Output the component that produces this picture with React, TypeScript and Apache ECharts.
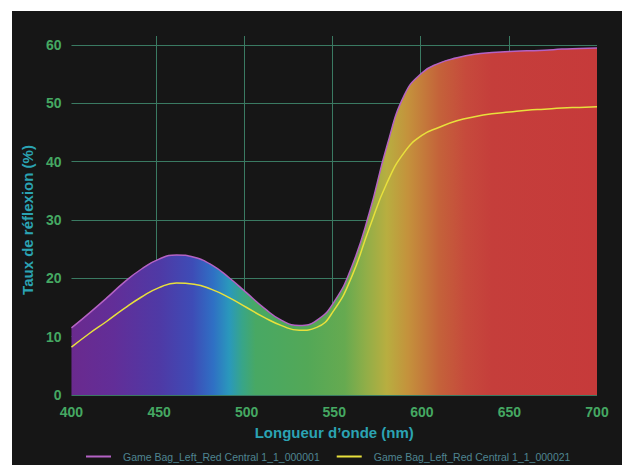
import React, { useEffect, useRef } from "react";
import * as echarts from "echarts";

const wavelengths = [400, 410, 420, 430, 440, 450, 460, 470, 480, 490, 500, 510, 520, 530, 540, 550, 560, 570, 580, 590, 600, 610, 620, 630, 640, 650, 660, 670, 680, 690, 700];
const reflect000001 = [11.5, 14.0, 16.6, 19.3, 21.6, 23.3, 24.0, 23.6, 22.3, 20.1, 17.5, 14.9, 12.8, 11.9, 12.8, 16.0, 22.0, 31.2, 42.6, 51.4, 55.2, 56.9, 57.8, 58.4, 58.7, 58.9, 59.0, 59.1, 59.3, 59.4, 59.5];
const reflect000021 = [8.2, 10.5, 12.6, 14.8, 16.8, 18.4, 19.2, 19.0, 18.1, 16.7, 15.0, 13.3, 11.9, 11.1, 11.6, 14.6, 20.3, 28.6, 36.3, 41.6, 44.5, 45.9, 47.0, 47.7, 48.2, 48.5, 48.8, 49.0, 49.2, 49.3, 49.4];
const seriesNames = ["Game Bag_Left_Red Central 1_1_000001", "Game Bag_Left_Red Central 1_1_000021"];
const xName = "Longueur d\u2019onde (nm)";
const yName = "Taux de r\u00e9flexion (%)";

export default function App() {
  const ref = useRef<HTMLDivElement>(null);
  useEffect(() => {
    if (!ref.current) return;
    const chart = echarts.init(ref.current, undefined, { renderer: "svg" });
    const labelStyle = { color: "#45a862", fontWeight: "bold" as const, fontSize: 14, fontFamily: "Liberation Sans, Arial, sans-serif" };
    const nameStyle = { color: "#2ba3b3", fontWeight: "bold" as const, fontSize: 15, fontFamily: "Liberation Sans, Arial, sans-serif" };
    const gridColor = "#3a7a62";
    chart.setOption({
      animation: false,
      backgroundColor: "#161616",
      grid: [
        { left: 56, right: 25, top: 34, bottom: 70 },
        { left: 56, right: 25, top: 25, bottom: 70 },
      ],
      legend: {
        left: 69,
        top: 435,
        icon: "rect",
        itemWidth: 25,
        itemHeight: 2,
        itemGap: 17,
        data: seriesNames,
        textStyle: { color: "#4f8591", fontSize: 10.5, fontFamily: "Liberation Sans, Arial, sans-serif", padding: [0, 0, 0, 7] },
      },
      xAxis: [
        {
          gridIndex: 0,
          type: "value",
          min: 400,
          max: 700,
          interval: 50,
          axisLine: { show: false },
          axisTick: { show: false },
          splitLine: { show: false },
          axisLabel: { ...labelStyle, margin: 10 },
          name: xName,
          nameLocation: "middle",
          nameGap: 30,
          nameTextStyle: nameStyle,
        },
        {
          gridIndex: 1,
          type: "value",
          min: 400,
          max: 700,
          interval: 50,
          axisLine: { show: false },
          axisTick: { show: false },
          axisLabel: { show: false },
          splitLine: { show: true, showMinLine: false, showMaxLine: false, lineStyle: { color: gridColor, width: 1 } },
        },
      ],
      yAxis: [
        {
          gridIndex: 0,
          type: "value",
          min: 0,
          max: 60,
          interval: 10,
          axisLine: { show: false },
          axisTick: { show: false },
          axisLabel: { ...labelStyle, margin: 10 },
          splitLine: { show: true, lineStyle: { color: gridColor, width: 1 } },
          name: yName,
          nameLocation: "middle",
          nameGap: 30,
          nameTextStyle: nameStyle,
        },
        { gridIndex: 1, type: "value", min: 0, max: 60, show: false },
      ],
      series: [
        {
          name: seriesNames[0],
          type: "line",
          xAxisIndex: 0,
          yAxisIndex: 0,
          smooth: 0.5,
          smoothMonotone: "none",
          symbol: "none",
          data: wavelengths.map((w, i) => [w, reflect000001[i]]),
          lineStyle: { color: "#b462c4", width: 1.5 },
          itemStyle: { color: "#b462c4" },
          areaStyle: {
            opacity: 1,
            color: new echarts.graphic.LinearGradient(0, 0, 1, 0, [
              { offset: 0.0, color: "#6a2a8e" },
              { offset: 0.08, color: "#622e98" },
              { offset: 0.17, color: "#4e3aa6" },
              { offset: 0.23, color: "#3e4cb6" },
              { offset: 0.27, color: "#2f70c4" },
              { offset: 0.3, color: "#2a98bc" },
              { offset: 0.325, color: "#38a588" },
              { offset: 0.35, color: "#48a864" },
              { offset: 0.45, color: "#53a857" },
              { offset: 0.52, color: "#66aa50" },
              { offset: 0.56, color: "#90ae48" },
              { offset: 0.6, color: "#b8ae40" },
              { offset: 0.64, color: "#c4923c" },
              { offset: 0.7, color: "#c4623a" },
              { offset: 0.75, color: "#c64a3c" },
              { offset: 0.8, color: "#c53e3b" },
              { offset: 1.0, color: "#c63a3a" },
            ]),
          },
          z: 3,
        },
        {
          name: seriesNames[1],
          type: "line",
          xAxisIndex: 0,
          yAxisIndex: 0,
          smooth: 0.5,
          smoothMonotone: "none",
          symbol: "none",
          data: wavelengths.map((w, i) => [w, reflect000021[i]]),
          lineStyle: { color: "#e8e03c", width: 1.5 },
          itemStyle: { color: "#e8e03c" },
          z: 4,
        },
      ],
    });
    return () => chart.dispose();
  }, []);
  return (
    <div style={{ position: "absolute", left: 0, top: 0, width: 622, height: 465, background: "#ffffff" }}>
      <div ref={ref} style={{ position: "absolute", left: 12, top: 11, width: 610, height: 454 }} />
    </div>
  );
}
